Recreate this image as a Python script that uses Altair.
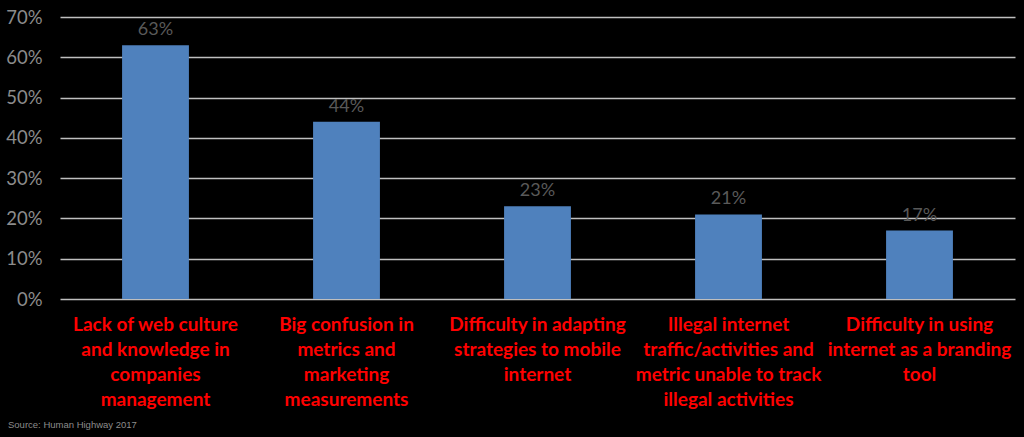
import altair as alt
import pandas as pd

categories = [
    "Lack of web culture|and knowledge in|companies|management",
    "Big confusion in|metrics and|marketing|measurements",
    "Difficulty in adapting|strategies to mobile|internet",
    "Illegal internet|traffic/activities and|metric unable to track|illegal activities",
    "Difficulty in using|internet as a branding|tool",
]
values = [0.63, 0.44, 0.23, 0.21, 0.17]
y_ticks = [0, 0.1, 0.2, 0.3, 0.4, 0.5, 0.6, 0.7]
source_text = ["Source: Human Highway 2017"]

df = pd.DataFrame({"cat": categories, "val": values})

x_enc = alt.X(
    "cat:N",
    sort=categories,
    title=None,
    scale=alt.Scale(paddingInner=0.65, paddingOuter=0.325),
    axis=alt.Axis(
        labelExpr="split(datum.value, '|')",
        labelAngle=0,
        labelColor="#ff0000",
        labelFont="Lato",
        labelFontWeight="bold",
        labelFontSize=19,
        labelLineHeight=25,
        labelPadding=16,
        labelLimit=0,
        labelBaseline="top",
        ticks=False,
        domain=False,
        grid=False,
    ),
)
y_enc = alt.Y(
    "val:Q",
    title=None,
    scale=alt.Scale(domain=[0, 0.7], nice=False),
    axis=alt.Axis(
        values=y_ticks,
        format=".0%",
        labelColor="#8c8c8c",
        labelFont="Lato",
        labelFontSize=18.5,
        labelPadding=18,
        ticks=False,
        domain=False,
        grid=True,
        gridColor="#bfbfbf",
        gridWidth=1.5,
    ),
)

bars = alt.Chart(df).mark_bar(color="#4f81bd").encode(x=x_enc, y=y_enc)
labels = alt.Chart(df).mark_text(
    dy=-15, font="Lato", fontSize=18, color="#595959", baseline="middle"
).encode(x=alt.X("cat:N", sort=categories), y="val:Q", text=alt.Text("val:Q", format=".0%"))

src = alt.Chart(pd.DataFrame({"t": source_text})).mark_text(
    align="left", baseline="middle", font="Liberation Sans", fontSize=9.5, color="#8c8c8c"
).encode(text="t:N", x=alt.value(-52), y=alt.value(408))

chart = (
    alt.layer(bars, labels, src)
    .properties(
        width=955,
        height=282,
        background="#000000",
        padding={"left": 60, "top": 17, "right": 9, "bottom": 138},
        autosize=alt.AutoSizeParams(type="none"),
    )
    .configure_view(stroke=None)
)

chart.save("out.html", embed_options={"renderer": "svg", "actions": False})
